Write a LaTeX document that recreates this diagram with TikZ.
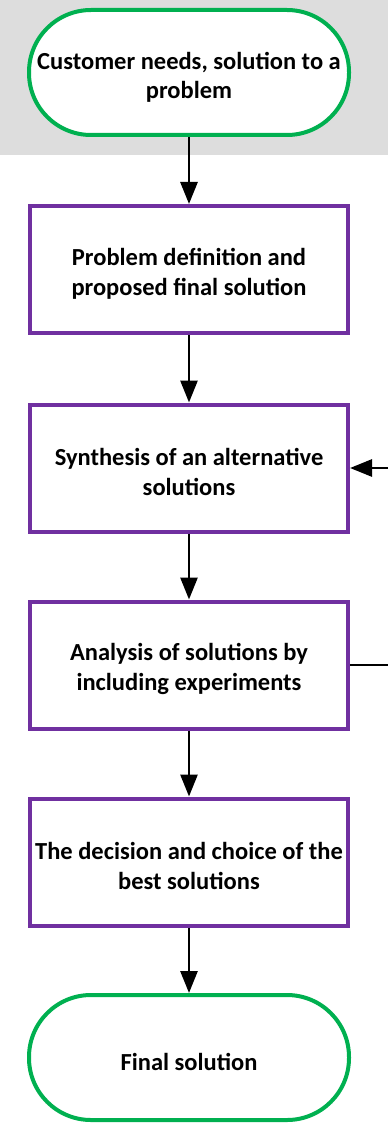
\documentclass[tikz,border=0pt]{standalone}
\usepackage{fontspec}
\setmainfont{Carlito}
\usetikzlibrary{arrows.meta}
\definecolor{tgreen}{HTML}{00B050}
\definecolor{tpurple}{HTML}{7030A0}
\definecolor{bggray}{HTML}{DDDDDD}
\newcommand\mytopstrut{\rule{0pt}{26pt}}
\tikzset{
  terminal/.style={draw=tgreen, line width=4pt, fill=white, rounded corners=62pt,
    minimum width=320pt, minimum height=125pt, align=center, inner sep=0pt,
    font=\fontsize{24.5}{29}\selectfont\bfseries},
  procbox/.style={draw=tpurple, line width=4pt, fill=white,
    minimum width=318pt, minimum height=127pt, align=center, inner sep=0pt,
    font=\fontsize{24.5}{30}\selectfont\bfseries},
  flow/.style={line width=2.8pt, -{Triangle[length=22pt,width=17pt]}},
  plain/.style={line width=2.8pt}
}
\begin{document}
\begin{tikzpicture}[x=1pt,y=1pt]
\useasboundingbox (0,0) rectangle (388,-1123);
\fill[bggray] (0,0) rectangle (388,-155);
\node[terminal] (start) at (189,-72.5) {\mytopstrut Customer needs, solution to a\\problem};
\node[procbox] (def) at (189,-269.5) {\mytopstrut Problem definition and\\proposed final solution};
\node[procbox] (syn) at (189,-468) {\mytopstrut Synthesis of an alternative\\solutions};
\node[procbox] (ana) at (189,-665) {\mytopstrut Analysis of solutions by\\including experiments};
\node[procbox] (dec) at (189,-862) {\mytopstrut The decision and choice of the\\best solutions};
\node[terminal] (fin) at (189,-1057.5) {\mytopstrut Final solution};
\coordinate (inR) at (388,-468);
\coordinate (outR) at (388,-665);
\draw[flow] (start) -- (def);
\draw[flow] (def) -- (syn);
\draw[flow] (syn) -- (ana);
\draw[flow] (ana) -- (dec);
\draw[flow] (dec) -- (fin);
\draw[flow] (inR) -- (syn.east);
\draw[plain] (ana.east) -- (outR);
\end{tikzpicture}
\end{document}
